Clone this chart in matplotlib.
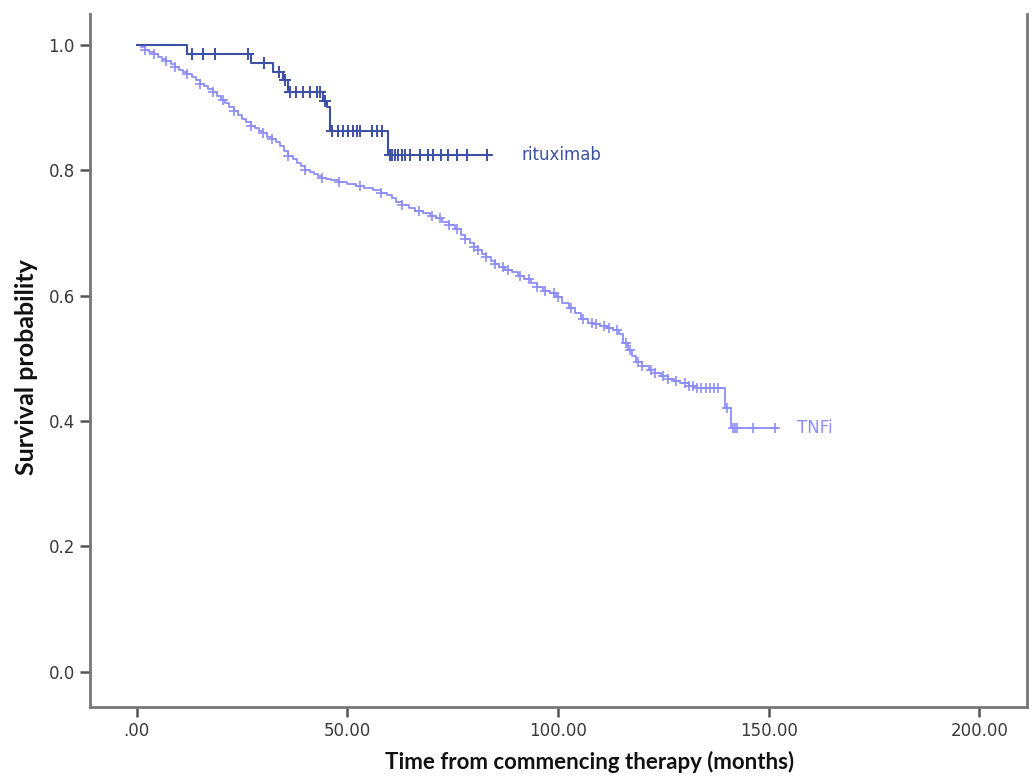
import numpy as np
import matplotlib
matplotlib.use("Agg")
import matplotlib.pyplot as plt

# rituximab: event times and survival after each event
ritux_t = [0, 11.9, 27.1, 32.4, 34.6, 36.0, 44.3, 45.2, 45.9, 59.6, 83.5]
ritux_s = [1.0, 0.985, 0.971, 0.956, 0.943, 0.924, 0.911, 0.901, 0.863, 0.824, 0.824]
ritux_cens = [13.0, 15.8, 18.6, 26.5, 30.2, 33.8, 35.2, 36.4, 37.9, 39.5, 41.1,
              42.7, 43.5, 44.7, 46.3, 47.8, 49.0, 50.2, 51.4, 52.2, 53.0, 55.8,
              57.0, 58.1, 60.0, 60.6, 61.3, 62.1, 62.9, 63.7, 64.9, 67.1, 69.2,
              70.2, 72.2, 73.9, 75.9, 78.3, 83.2]

# TNFi
tnfi_t = [0, 1, 2, 3, 4, 5, 6, 7, 8, 9, 10, 11, 12, 13, 14, 15, 16, 17, 18, 19,
          20, 21, 22, 23, 24, 25, 26, 27, 28, 29, 30, 31, 32, 33, 34, 35, 36, 37,
          38, 39, 40, 41, 42, 43, 44, 45, 46, 48, 50, 52, 54, 56, 58, 59.5, 60.5,
          61.5, 63, 64.5, 66, 68, 69.5, 71, 72.5, 74, 75.5, 77, 78, 79, 80, 81,
          82, 83, 84, 85, 86, 87.5, 89, 90.5, 92, 93.5, 95, 96.5, 98, 99.5, 101,
          102.5, 104, 105.5, 107, 108.5, 110, 111.5, 113, 114.5, 115.5, 116.5,
          117.5, 118.5, 120, 121.5, 123, 124.5, 126, 127.5, 129, 131, 133, 139.5,
          141, 152]
tnfi_s = [1.0, 0.996, 0.992, 0.988, 0.985, 0.981, 0.978, 0.974, 0.970, 0.965,
          0.960, 0.957, 0.953, 0.948, 0.943, 0.938, 0.934, 0.929, 0.925, 0.918,
          0.912, 0.907, 0.900, 0.894, 0.888, 0.882, 0.876, 0.871, 0.867, 0.863,
          0.859, 0.853, 0.849, 0.845, 0.838, 0.830, 0.823, 0.817, 0.811, 0.806,
          0.801, 0.797, 0.794, 0.791, 0.788, 0.786, 0.784, 0.781, 0.778, 0.775,
          0.771, 0.768, 0.764, 0.760, 0.755, 0.749, 0.744, 0.740, 0.735, 0.731,
          0.727, 0.723, 0.718, 0.712, 0.706, 0.697, 0.690, 0.684, 0.678, 0.672,
          0.666, 0.661, 0.655, 0.650, 0.645, 0.641, 0.637, 0.632, 0.627, 0.620,
          0.613, 0.608, 0.604, 0.598, 0.588, 0.580, 0.572, 0.563, 0.557, 0.554,
          0.551, 0.548, 0.545, 0.538, 0.525, 0.513, 0.503, 0.494, 0.487, 0.481,
          0.476, 0.472, 0.467, 0.463, 0.460, 0.456, 0.453, 0.421, 0.389, 0.389]
tnfi_cens = [2, 4, 7, 9, 12, 15, 18, 20.5, 23, 27, 30, 32, 36, 40, 44, 48, 53,
             58, 63, 67, 70, 72, 74, 76, 78, 80, 81, 83, 85, 87, 88, 91, 93, 95,
             97, 99, 100, 103, 106, 108, 109, 111, 112, 114, 116, 117, 119, 120,
             122, 123, 125, 126, 128, 130, 131, 132, 133, 134, 135, 136, 137, 138,
             140, 141.5, 142, 142.5, 146.3, 151.5]

ritux_color = "#3d50a6"
tnfi_color = "#8e8ef8"


def surv_at(times, surv, x):
    idx = np.searchsorted(times, x, side="right") - 1
    return np.asarray(surv)[idx]


fig = plt.figure(figsize=(10.35, 7.78), dpi=100)
ax = fig.add_axes([0.087, 0.0913, 0.9053, 0.8907])

ax.step(tnfi_t, tnfi_s, where="post", color=tnfi_color, lw=1.3)
ax.plot(tnfi_cens, surv_at(tnfi_t, tnfi_s, tnfi_cens), "+", color=tnfi_color,
        ms=7, mew=1.2)
ax.step(ritux_t, ritux_s, where="post", color=ritux_color, lw=1.5)
ax.plot(ritux_cens, surv_at(ritux_t, ritux_s, ritux_cens), "+", color=ritux_color,
        ms=8, mew=1.4)

ax.text(91.4, 0.824, "rituximab", color=ritux_color, fontsize=12,
        family="DejaVu Sans", va="center", ha="left")
ax.text(156.7, 0.389, "TNFi", color=tnfi_color, fontsize=12,
        family="DejaVu Sans", va="center", ha="left")

ax.set_xlim(-11.1, 211.3)
ax.set_ylim(-0.056, 1.049)
ax.set_xticks([0, 50, 100, 150, 200])
ax.set_xticklabels([".00", "50.00", "100.00", "150.00", "200.00"])
ax.set_yticks([0, 0.2, 0.4, 0.6, 0.8, 1.0])
ax.set_yticklabels(["0.0", "0.2", "0.4", "0.6", "0.8", "1.0"])

for lab in ax.get_xticklabels() + ax.get_yticklabels():
    lab.set_family("DejaVu Sans")
    lab.set_fontsize(12)
    lab.set_color("#3a3a3a")

ax.tick_params(direction="out", length=7, width=1.8, color="#555555", pad=4)
ax.spines["top"].set_visible(False)
for s in ["left", "right", "bottom"]:
    ax.spines[s].set_color("#777777")
    ax.spines[s].set_linewidth(2)

ax.set_xlabel("Time from commencing therapy (months)", family="Lato",
              fontweight="bold", fontsize=16, color="#111111")
ax.xaxis.set_label_coords(0.533, -0.064)
ax.set_ylabel("Survival probability", family="Lato", fontweight="bold",
              fontsize=18, color="#111111")
ax.yaxis.set_label_coords(-0.056, 0.49)

fig.savefig("out.png", dpi=100)
